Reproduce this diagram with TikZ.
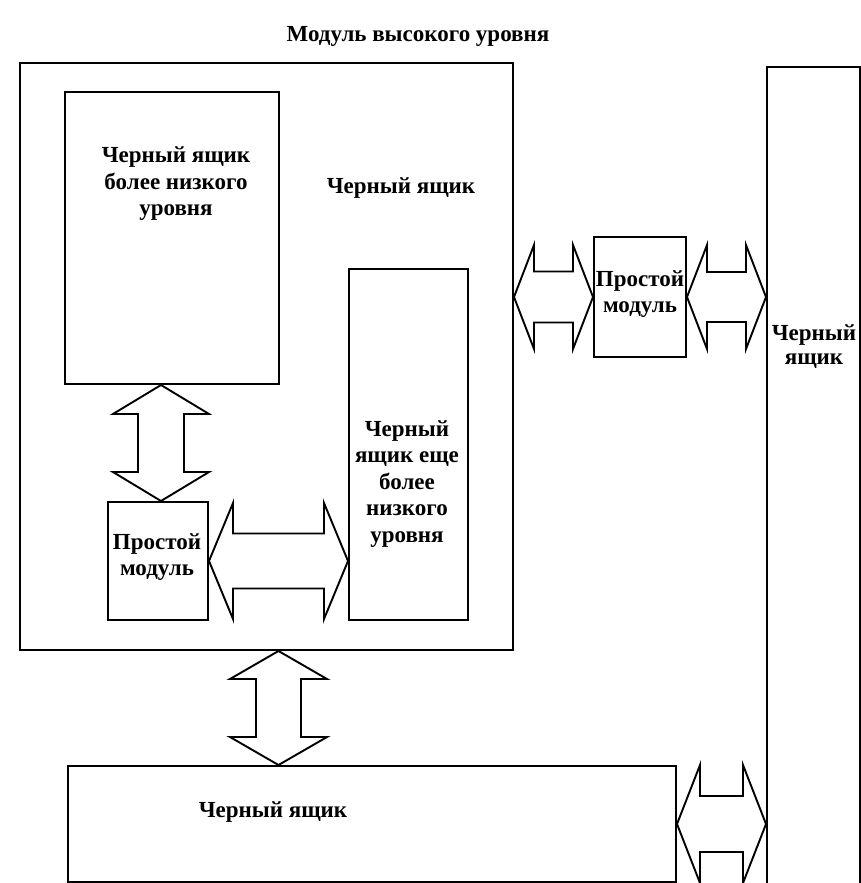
\documentclass[tikz,border=0pt]{standalone}
\usepackage{fontspec}
\setmainfont{Liberation Serif}
\usetikzlibrary{calc}
% horizontal double block arrow: left tip, right tip, head half-height, shaft half-height, head length
\newcommand\blockharrow[5]{%
  \draw[blk] let \p1=#1, \p2=#2 in
    (\x1,\y1) -- (\x1+#5pt,\y1+#3pt) -- (\x1+#5pt,\y1+#4pt) -- (\x2-#5pt,\y1+#4pt)
    -- (\x2-#5pt,\y1+#3pt) -- (\x2,\y1) -- (\x2-#5pt,\y1-#3pt) -- (\x2-#5pt,\y1-#4pt)
    -- (\x1+#5pt,\y1-#4pt) -- (\x1+#5pt,\y1-#3pt) -- cycle;}
% vertical double block arrow: top tip, bottom tip, head half-width, shaft half-width, head length
\newcommand\blockvarrow[5]{%
  \draw[blk] let \p1=#1, \p2=#2 in
    (\x1,\y1) -- (\x1+#3pt,\y1-#5pt) -- (\x1+#4pt,\y1-#5pt) -- (\x1+#4pt,\y2+#5pt)
    -- (\x1+#3pt,\y2+#5pt) -- (\x1,\y2) -- (\x1-#3pt,\y2+#5pt) -- (\x1-#4pt,\y2+#5pt)
    -- (\x1-#4pt,\y1-#5pt) -- (\x1-#3pt,\y1-#5pt) -- cycle;}
\begin{document}
\begin{tikzpicture}[x=1pt,y=-1pt,line width=2pt,
  box/.style={draw,rectangle,inner sep=0pt,anchor=north west},
  lbl/.style={font=\fontsize{23}{26.5}\selectfont\bfseries,align=center,inner sep=0pt},
  blk/.style={draw,line width=1.9pt,line join=miter,fill=white}]
\useasboundingbox (0,0) rectangle (861,883);
\fill[white] (0,0) rectangle (861,883);

% boxes
\node[box,minimum width=493pt,minimum height=587pt] (outer) at (19,62) {};
\node[box,minimum width=214pt,minimum height=292pt] (topbox) at (64,91) {};
\node[box,minimum width=119pt,minimum height=351pt] (tall) at (348,268) {};
\node[box,minimum width=100pt,minimum height=118pt] (simpleIn) at (107,501) {};
\node[box,minimum width=92pt,minimum height=120pt] (simpleOut) at (593,236) {};
\node[box,minimum width=93pt,minimum height=830pt] (rightbox) at (766,66) {};
\node[box,minimum width=608pt,minimum height=116pt] (bottombox) at (67,765) {};

% labels
\node[lbl] (title) at (418,36) {Модуль высокого уровня};
\node[lbl] (outerL) at (401,188) {Черный ящик};
\node[lbl] (topL) at (176,184) {Черный ящик\\более низкого\\уровня};
\node[lbl] (tallL) at (407,484) {Черный\\ящик еще\\более\\низкого\\уровня};
\node[lbl] (simpleInL) at (157,557) {Простой\\модуль};
\node[lbl] (simpleOutL) at (640,294) {Простой\\модуль};
\node[lbl,font=\fontsize{23}{24}\selectfont\bfseries] (rightL) at (814,347) {Черный\\ящик};
\node[lbl] (bottomL) at (273,812) {Черный ящик};

% block arrows
\coordinate (v4) at ($(simpleIn.north)+(3,0)$);
\coordinate (v5) at ($(outer.south)+(12,0)$);
\blockharrow{(outer.east |- simpleOut.west)}{(simpleOut.west)}{52}{25.5}{20}
\blockharrow{(simpleOut.east)}{(rightbox.west |- simpleOut.east)}{52}{25}{20}
\blockharrow{(simpleIn.east)}{(tall.west |- simpleIn.east)}{58}{27.5}{24}
\blockvarrow{(v4 |- topbox.south)}{(v4 |- simpleIn.north)}{48}{23}{29}
\blockvarrow{(v5)}{(v5 |- bottombox.north)}{48.5}{22.5}{28}
\blockharrow{(bottombox.east)}{(rightbox.west |- bottombox.east)}{59}{28}{23}
\end{tikzpicture}
\end{document}
